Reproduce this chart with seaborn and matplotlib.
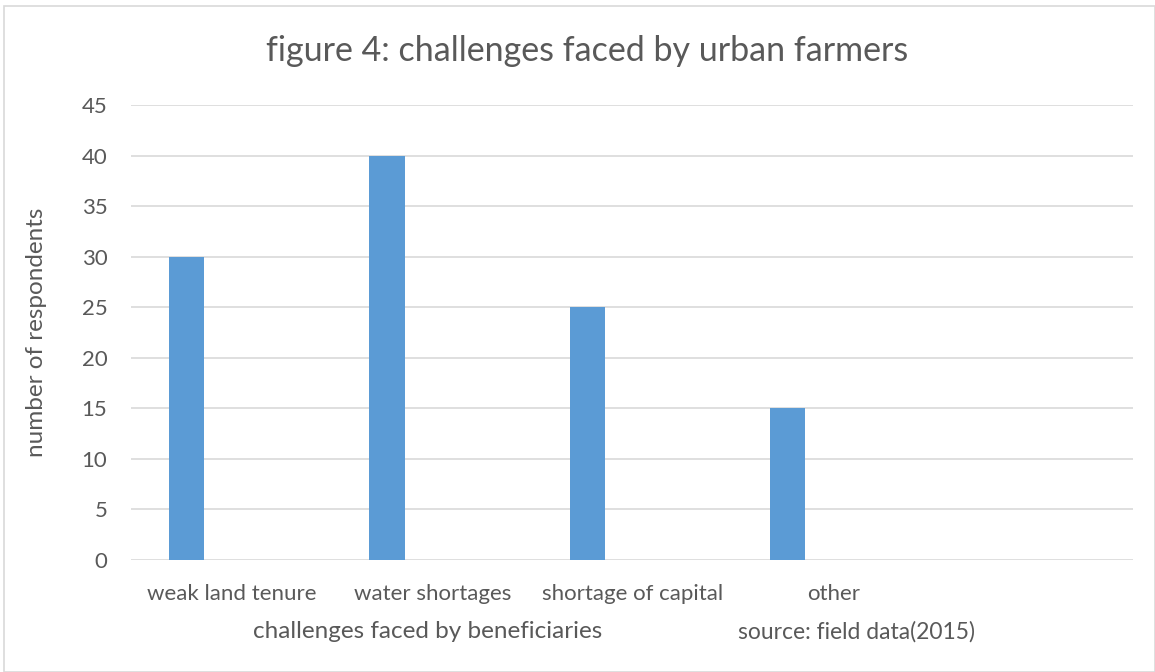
import numpy as np
import pandas as pd
import matplotlib.pyplot as plt
import seaborn as sns

# data
categories = ['weak land tenure', 'water shortages', 'shortage of capital', 'other', '']
respondents = [30, 40, 25, 15, np.nan]
y_ticks = [0, 5, 10, 15, 20, 25, 30, 35, 40, 45]

df = pd.DataFrame({'challenge': categories, 'respondents': respondents})

sns.set_theme(style='white')
plt.rcParams['font.family'] = ['Lato', 'DejaVu Sans']
txt = '#595959'
grid = '#D9D9D9'

fig = plt.figure(figsize=(11.55, 6.72), dpi=100)
ax = fig.add_axes([131 / 1155, 1 - 560 / 672, 1002 / 1155, 455 / 672])

sns.barplot(data=df, x='challenge', y='respondents', color='#5B9BD5',
            width=0.175, saturation=1, ax=ax, zorder=3, linewidth=0)

# excel puts the bar left of the category centre
off = 0.2275
ax.set_xlim(-0.2775, len(categories) - 0.2775)
ax.set_xticks(np.arange(len(categories)) + off)
ax.set_xticklabels(categories, color=txt, fontsize=16)
ax.set_ylim(0, 45)
ax.set_yticks(y_ticks)
ax.set_yticklabels([str(t) for t in y_ticks], color=txt, fontsize=16)
ax.tick_params(axis='x', length=0, pad=17)
ax.tick_params(axis='y', length=0, pad=17)
ax.yaxis.grid(True, color=grid, linewidth=1.2, zorder=0)
ax.set_axisbelow(True)
sns.despine(ax=ax, left=True, bottom=True)
ax.set_xlabel('')
ax.set_ylabel('number of respondents', color=txt, fontsize=17.5)
ax.yaxis.set_label_coords(-84 / 1002, 0.5)

fig.text(587 / 1155, 1 - 51 / 672, 'figure 4: challenges faced by urban farmers',
         ha='center', va='center', color=txt, fontsize=24.5)
fig.text(428 / 1155, 1 - 632 / 672, 'challenges faced by beneficiaries',
         ha='center', va='center', color=txt, fontsize=17.5)
fig.text(856 / 1155, 1 - 632 / 672, 'source: field data(2015)',
         ha='center', va='center', color=txt, fontsize=16.5)

# light frame round the chart area
frame = plt.Rectangle((4 / 1155, 0), 1 - 4 / 1155, 1 - 6 / 672, transform=fig.transFigure,
                      fill=False, edgecolor=grid, linewidth=1.2)
fig.patches.append(frame)

fig.savefig('out.png', dpi=100)
